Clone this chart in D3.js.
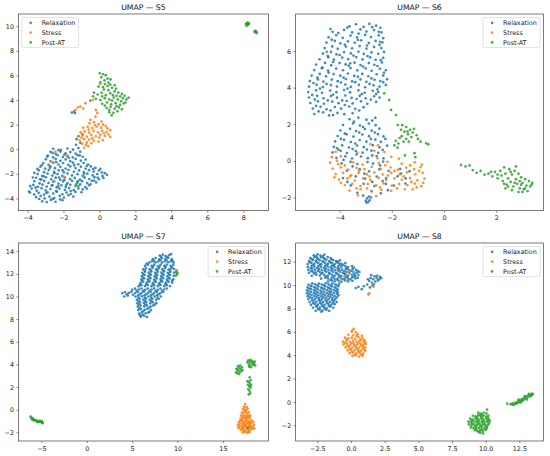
<!DOCTYPE html>
<html><head><meta charset="utf-8">
<script src="https://cdn.jsdelivr.net/npm/d3@7"></script>
<style>body{margin:0;background:#fff}svg{display:block}</style>
</head><body><svg id="c" width="550" height="456"></svg>
<script>
const seriesNames = ["Relaxation","Stress","Post-AT"];
const colors = ["#1f77b4","#ff7f0e","#2ca02c"];
const panelTitles = ["UMAP — S5","UMAP — S6","UMAP — S7","UMAP — S8"];

const s5XTicks = [-4,-2,0,2,4,6,8];
const s5YTicks = [-4,-2,0,2,4,6,8,10];
const s6XTicks = [-4,-2,0,2];
const s6YTicks = [-2,0,2,4,6];
const s7XTicks = [-5,0,5,10,15];
const s7YTicks = [-2,0,2,4,6,8,10,12,14];
const s8XTicks = [-2.5,0,2.5,5,7.5,10,12.5];
const s8YTicks = [-2,0,2,4,6,8,10,12];

const s5Relax = [
[-3.18,-4.24],[-2.93,-4.3],[-2.7,-4.12],[-2.44,-4.27],[-2.18,-4.08],
[-3.52,-3.9],[-3.27,-3.8],[-3.05,-4.0],[-2.78,-3.86],[-2.52,-3.98],[-2.21,-3.79],[-1.98,-3.93],[-1.72,-3.74],
[-3.86,-3.52],[-3.63,-3.68],[-3.38,-3.55],[-3.08,-3.7],[-2.88,-3.5],[-2.57,-3.6],[-2.37,-3.45],[-2.06,-3.66],[-1.83,-3.52],[-1.58,-3.64],[-1.33,-3.47],
[-3.77,-3.2],[-3.49,-3.37],[-3.22,-3.18],[-2.99,-3.34],[-2.72,-3.24],[-2.41,-3.4],[-2.23,-3.2],[-1.92,-3.31],[-1.68,-3.16],[-1.43,-3.33],[-1.17,-3.18],[-0.93,-3.27],
[-3.68,-2.9],[-3.42,-3.06],[-3.17,-2.88],[-2.93,-3.04],[-2.62,-2.92],[-2.38,-3.1],[-2.12,-2.93],[-1.87,-3.07],[-1.62,-2.89],[-1.33,-3.0],[-1.07,-2.86],[-0.79,-3.08],[-0.58,-2.93],
[-3.62,-2.6],[-3.33,-2.77],[-3.07,-2.58],[-2.83,-2.74],[-2.57,-2.64],[-2.28,-2.8],[-2.02,-2.61],[-1.78,-2.77],[-1.52,-2.58],[-1.23,-2.73],[-0.97,-2.6],[-0.68,-2.75],[-0.43,-2.57],[-0.18,-2.7],
[-3.52,-2.32],[-3.23,-2.47],[-2.97,-2.28],[-2.68,-2.44],[-2.43,-2.31],[-2.18,-2.48],[-1.92,-2.3],[-1.63,-2.43],[-1.37,-2.33],[-1.08,-2.47],[-0.83,-2.29],[-0.57,-2.42],[-0.28,-2.27],[-0.03,-2.44],[0.22,-2.33],
[-3.43,-2.02],[-3.18,-2.17],[-2.88,-1.99],[-2.62,-2.14],[-2.33,-2.02],[-2.07,-2.17],[-1.78,-1.98],[-1.52,-2.13],[-1.22,-2.03],[-0.93,-2.16],[-0.67,-1.99],[-0.38,-2.13],[-0.12,-2.02],[0.17,-2.17],[0.42,-2.08],
[-3.37,-1.72],[-3.08,-1.87],[-2.82,-1.69],[-2.53,-1.84],[-2.27,-1.72],[-1.98,-1.87],[-1.72,-1.69],[-1.42,-1.83],[-1.13,-1.72],[-0.87,-1.86],[-0.58,-1.7],[-0.32,-1.82],[-0.03,-1.73],[0.13,-1.88],
[-3.28,-1.42],[-3.02,-1.57],[-2.73,-1.39],[-2.47,-1.54],[-2.17,-1.43],[-1.88,-1.57],[-1.62,-1.4],[-1.33,-1.53],[-1.03,-1.42],[-0.77,-1.57],[-0.48,-1.4],[-0.22,-1.52],
[-3.12,-1.12],[-2.83,-1.27],[-2.57,-1.09],[-2.28,-1.24],[-2.02,-1.12],[-1.73,-1.27],[-1.47,-1.09],[-1.18,-1.23],[-0.88,-1.13],[-0.62,-1.24],
[-2.98,-0.82],[-2.72,-0.97],[-2.43,-0.79],[-2.17,-0.94],[-1.88,-0.83],[-1.62,-0.97],[-1.32,-0.79],[-1.03,-0.93],[-0.77,-0.84],
[-2.87,-0.52],[-2.58,-0.67],[-2.32,-0.49],[-2.03,-0.64],[-1.77,-0.53],[-1.48,-0.67],[-1.22,-0.49],[-0.93,-0.61],
[-2.72,-0.22],[-2.43,-0.37],[-2.17,-0.19],[-1.88,-0.34],[-1.62,-0.23],[-1.32,-0.36],[-1.07,-0.2],
[-2.57,0.04],[-2.28,-0.07],[-1.78,0.06],[-1.47,-0.03],[-1.17,0.09],
[-1.3,0.36],[-1.06,0.52],[-1.27,0.82],[-1.16,1.06],[-0.96,1.22],[-1.53,2.98],[-1.41,3.07],[-1.36,2.94],[-3.91,-3.44],[-3.62,-1.93],
[-3.55,-3.12],[-3.3,-2.45],[-2.95,-3.55],[-2.6,-4.05],[-2.3,-3.02],[-1.95,-2.5],[-1.6,-3.4],[-1.2,-2.6],[-0.85,-2.0],[-0.5,-2.85],
[-0.1,-2.3],[0.3,-1.95],[-2.75,-1.5],[-2.4,-1.05],[-2.05,-1.7],[-1.7,-0.7],[-1.4,-1.3],[-1.1,-0.5],[-0.7,-1.35],[-0.35,-1.6],
[-3.2,-1.3],[-2.9,-0.6],[-2.6,-0.3],[-2.15,-0.05],[-1.95,-0.45],[-3.45,-1.6],[-3.7,-2.3],[-3.85,-3.0],[-3.35,-4.05],[-2.05,-4.15],
[-1.45,-3.85],[-1.0,-3.5],[-0.7,-3.2],[-0.3,-2.55],[0.05,-1.6],[-2.5,-1.95],[-2.25,-2.3],[-1.85,-2.9],[-2.65,-2.95],[-3.1,-2.2]
];
const s5Stress = [
[-0.85,0.12],[-0.62,0.25],[-0.95,0.45],[-0.7,0.55],[-0.45,0.48],[-1.1,0.72],[-0.85,0.82],[-0.58,0.78],[-0.32,0.7],[-0.05,0.62],[0.18,0.75],
[-1.18,1.05],[-0.93,1.12],[-0.7,1.02],[-0.45,1.15],[-0.2,1.05],[0.05,1.18],[0.3,1.08],[0.5,1.2],
[-1.05,1.38],[-0.82,1.45],[-0.57,1.35],[-0.33,1.48],[-0.08,1.38],[0.15,1.5],[0.4,1.4],[0.6,1.55],
[-0.9,1.75],[-0.65,1.82],[-0.4,1.72],[-0.15,1.85],[0.1,1.75],[0.35,1.88],
[-0.55,2.1],[-0.3,2.2],[-0.05,2.05],[0.12,2.25],
[-0.22,2.65],[-0.12,2.95],[-0.2,3.2],[-0.35,4.02],[0.05,5.3],[-1.06,3.47],[-0.78,3.75],[-1.33,3.2],[-0.9,3.3],[-1.2,3.4],
[-2.44,-0.2],[-2.72,-1.0],[-1.8,-0.6],[-1.98,-2.23],[-2.5,-2.6],
[-0.75,0.35],[-0.4,0.9],[0.0,0.95],[-0.95,1.25],[0.25,1.3],[-0.6,1.6],[0.45,1.7],[-0.25,1.95],[-1.0,0.95],[0.6,1.0],[-0.5,2.4],[0.2,2.0]
];
const s5Post = [
[0.02,6.18],[0.2,6.1],[0.35,6.02],[0.1,5.85],[0.45,5.75],[0.62,5.68],[0.28,5.6],[0.05,5.45],[0.5,5.42],
[-0.05,5.1],[0.2,5.05],[0.45,5.15],[0.7,5.0],[0.92,4.92],
[-0.35,4.3],[-0.1,4.45],[0.12,4.6],[0.35,4.4],[0.6,4.55],[0.85,4.7],[1.05,4.6],[1.25,4.5],
[-0.5,3.95],[-0.2,4.1],[0.05,4.0],[0.3,4.15],[0.55,4.05],[0.8,4.2],[1.02,4.05],[1.3,4.15],[1.5,4.05],[1.62,4.2],
[0.15,3.7],[0.42,3.8],[0.65,3.65],[0.9,3.75],[1.15,3.6],[1.35,3.72],
[0.4,3.35],[0.62,3.45],[0.85,3.3],[1.08,3.4],[1.25,3.25],
[0.55,3.0],[0.78,2.95],[1.0,3.08],[0.68,2.75],
[0.75,4.4],[0.95,4.35],[0.25,4.85],[-1.17,-3.0],[-1.3,-2.85],
[0.3,5.3],[0.6,5.25],[0.15,4.3],[0.5,4.8],[1.15,4.3],[1.4,4.35],[0.7,3.95],[0.95,3.5],[1.2,3.9],[0.3,3.55],[0.55,3.2],[-0.3,4.6],[0.85,5.2],[1.45,3.8],
[8.15,10.18],[8.2,10.25],[8.28,10.15],[8.22,10.1],[8.32,10.22],[8.25,10.3],[8.18,10.05],
[8.62,9.55],[8.7,9.5],[8.75,9.45],[8.66,9.62],[8.72,9.58]
];

const s6Relax = [
[-3.62,7.35],[-3.37,7.46],[-3.08,7.32],[-2.86,7.48],[-2.6,7.38],[-2.44,7.27],
[-4.27,7.05],[-3.83,7.15],[-3.52,7.02],[-3.2,7.18],[-2.97,7.06],[-2.68,7.14],[-2.4,7.02],
[-4.42,6.75],[-4.13,6.86],[-3.88,6.72],[-3.58,6.84],[-3.33,6.74],[-3.02,6.88],[-2.8,6.76],[-2.5,6.85],[-2.33,6.7],
[-4.5,6.46],[-4.18,6.55],[-3.97,6.42],[-3.68,6.53],[-3.42,6.45],[-3.17,6.58],[-2.88,6.44],[-2.62,6.55],[-2.36,6.47],
[-4.57,6.16],[-4.28,6.25],[-4.07,6.12],[-3.76,6.24],[-3.52,6.15],[-3.23,6.27],[-2.97,6.13],[-2.68,6.22],[-2.4,6.16],
[-4.64,5.86],[-4.33,5.95],[-4.12,5.82],[-3.83,5.94],[-3.57,5.87],[-3.28,5.96],[-3.07,5.84],[-2.78,5.93],[-2.52,5.85],[-2.3,5.95],
[-4.77,5.55],[-4.43,5.66],[-4.22,5.53],[-3.9,5.64],[-3.67,5.56],[-3.36,5.67],[-3.12,5.54],[-2.83,5.65],[-2.62,5.52],[-2.33,5.63],
[-4.9,5.26],[-4.56,5.35],[-4.32,5.22],[-4.0,5.34],[-3.77,5.27],[-3.43,5.36],[-3.2,5.23],[-2.88,5.34],[-2.67,5.25],[-2.38,5.37],
[-4.97,4.96],[-4.68,5.06],[-4.44,4.93],[-4.13,5.04],[-3.87,4.95],[-3.58,5.07],[-3.32,4.94],[-3.0,5.05],[-2.77,4.92],[-2.46,5.03],[-2.23,4.95],
[-5.07,4.66],[-4.76,4.75],[-4.52,4.62],[-4.23,4.74],[-3.97,4.65],[-3.68,4.77],[-3.44,4.64],[-3.13,4.75],[-2.9,4.62],[-2.58,4.73],[-2.33,4.66],
[-5.14,4.36],[-4.83,4.45],[-4.62,4.33],[-4.3,4.44],[-4.07,4.35],[-3.76,4.47],[-3.52,4.34],[-3.2,4.45],[-2.97,4.32],[-2.66,4.43],[-2.44,4.36],[-2.18,4.46],
[-5.17,4.05],[-4.88,4.16],[-4.64,4.03],[-4.33,4.14],[-4.1,4.06],[-3.78,4.17],[-3.57,4.04],[-3.26,4.15],[-3.02,4.02],[-2.7,4.13],[-2.47,4.06],[-2.23,4.15],
[-5.2,3.76],[-4.9,3.85],[-4.67,3.72],[-4.36,3.84],[-4.12,3.75],[-3.83,3.87],[-3.6,3.74],[-3.28,3.85],[-3.04,3.72],[-2.73,3.83],[-2.52,3.76],
[-5.17,3.46],[-4.86,3.55],[-4.62,3.42],[-4.33,3.54],[-4.1,3.45],[-3.78,3.57],[-3.54,3.44],[-3.23,3.55],[-3.0,3.42],[-2.68,3.53],[-2.47,3.46],
[-5.12,3.16],[-4.83,3.25],[-4.6,3.12],[-4.28,3.24],[-4.04,3.15],[-3.73,3.27],[-3.5,3.14],[-3.18,3.25],[-2.94,3.12],[-2.6,3.22],
[-5.02,2.86],[-4.73,2.95],[-4.5,2.82],[-4.18,2.94],[-3.94,2.85],[-3.63,2.97],[-3.4,2.84],[-3.08,2.93],
[-4.97,2.56],[-4.63,2.65],[-4.4,2.48],[-4.08,2.62],[-3.82,2.55],
[-3.62,2.28],[-3.28,2.36],[-2.97,2.25],[-2.63,2.35],
[-3.87,1.96],[-3.48,2.05],[-3.22,1.93],[-2.88,2.04],[-2.62,1.95],
[-3.97,1.66],[-3.6,1.75],[-3.37,1.63],[-3.03,1.74],[-2.77,1.65],[-2.48,1.76],
[-4.07,1.36],[-3.73,1.45],[-3.47,1.33],[-3.13,1.44],[-2.87,1.35],[-2.53,1.46],[-2.32,1.34],
[-4.17,1.06],[-3.83,1.15],[-3.57,1.03],[-3.23,1.14],[-2.97,1.05],[-2.63,1.16],[-2.42,1.04],
[-4.22,0.76],[-3.9,0.85],[-3.64,0.73],[-3.33,0.84],[-3.07,0.75],[-2.73,0.86],[-2.47,0.74],[-2.18,0.83],
[-4.27,0.46],[-3.96,0.55],[-3.72,0.43],[-3.38,0.54],[-3.12,0.45],[-2.78,0.56],[-2.52,0.44],
[-4.12,0.16],[-3.78,0.25],[-3.52,0.13],[-3.18,0.24],[-2.92,0.15],[-2.58,0.26],[-2.32,0.14],
[-3.92,-0.14],[-3.58,-0.05],[-3.32,-0.17],[-2.93,-0.06],[-2.72,-0.15],[-2.33,-0.04],
[-3.72,-0.54],[-3.23,-0.45],[-2.87,-0.57],[-2.48,-0.46],[-2.12,-0.55],[-1.68,-0.44],[-1.32,-0.56],
[-3.87,-0.94],[-3.38,-0.85],[-3.02,-0.97],[-2.58,-0.86],[-2.22,-0.95],[-1.78,-0.84],[-1.47,-0.96],
[-3.57,-1.34],[-3.08,-1.25],[-2.67,-1.37],[-2.23,-1.26],[-1.92,-1.35],[-1.48,-1.24],
[-3.32,-1.74],[-2.78,-1.65],[-2.42,-1.77],
[-2.95,-2.05],[-2.85,-2.15],[-2.9,-2.25],[-2.8,-2.0],[-3.0,-2.18],[-2.88,-1.95],
[-4.35,7.2],[-4.05,6.98],[-3.7,7.28],[-3.27,6.95],[-2.75,7.3],[-2.5,7.05],[-4.3,6.62],[-3.8,6.35],[-3.3,6.6],[-2.95,6.3],
[-2.47,6.33],[-4.45,5.72],[-4.0,5.78],[-3.47,5.75],[-2.93,5.72],[-2.42,5.5],[-4.65,5.1],[-4.25,5.4],[-3.65,5.2],[-3.1,5.15],
[-2.55,5.18],[-4.85,4.55],[-4.42,4.82],[-3.85,4.55],[-3.3,4.6],[-2.78,4.5],[-2.3,4.8],[-5.0,4.25],[-4.5,4.2],[-3.95,4.28],
[-3.4,4.3],[-2.85,4.2],[-2.33,4.3],[-5.05,3.6],[-4.75,3.95],[-4.25,3.62],[-3.7,3.95],[-3.15,3.65],[-2.6,3.65],[-4.95,3.35],
[-4.45,3.3],[-3.9,3.3],[-3.35,3.38],[-2.8,3.35],[-4.9,3.0],[-4.35,2.75],[-3.8,3.05],[-3.25,2.75],[-4.8,2.7],[-4.25,2.5],
[-3.5,2.6],[-3.45,2.15],[-3.1,1.85],[-2.75,2.2],[-3.8,1.5],[-3.25,1.55],[-2.65,1.55],[-3.95,1.2],[-3.4,0.95],[-2.8,1.2],
[-2.25,1.2],[-4.05,0.62],[-3.5,0.65],[-2.95,0.62],[-2.35,0.6],[-3.85,0.05],[-3.35,0.35],[-2.75,0.3],[-2.45,-0.25],[-3.5,-0.3],
[-3.05,-0.7],[-2.35,-1.1],[-1.65,-0.7],[-2.75,-1.15],[-3.7,-1.15],[-2.15,-1.6],[-3.1,-1.9],[-2.97,-2.28]
];
const s6Stress = [
[-2.82,0.92],[-2.53,0.85],
[-4.15,0.5],[-3.32,0.45],[-2.67,0.55],[-2.28,0.48],
[-4.3,0.2],[-3.95,0.25],[-2.55,0.15],[-2.02,0.22],[-1.73,0.12],
[-4.36,-0.1],[-4.05,-0.18],[-3.48,-0.08],[-3.12,-0.2],[-2.5,-0.12],[-2.17,-0.05],[-1.62,-0.15],[-1.12,-0.08],[-0.85,-0.2],
[-4.27,-0.42],[-3.95,-0.35],[-3.67,-0.47],[-3.35,-0.38],[-3.05,-0.45],[-2.77,-0.33],[-2.42,-0.44],[-2.05,-0.36],[-1.77,-0.48],[-1.45,-0.37],[-1.15,-0.45],[-0.9,-0.34],
[-4.15,-0.72],[-3.87,-0.65],[-3.55,-0.77],[-3.27,-0.66],[-2.95,-0.74],[-2.67,-0.63],[-2.35,-0.75],[-2.02,-0.66],[-1.7,-0.74],[-1.42,-0.62],[-1.1,-0.73],[-0.82,-0.66],
[-4.02,-1.02],[-3.7,-0.95],[-3.42,-1.07],[-3.1,-0.96],[-2.82,-1.04],[-2.5,-0.93],[-2.22,-1.05],[-1.9,-0.96],[-1.62,-1.03],[-1.3,-0.94],[-1.02,-1.06],[-0.75,-0.97],
[-3.8,-1.32],[-3.52,-1.25],[-3.2,-1.37],[-2.92,-1.26],[-2.6,-1.34],[-2.32,-1.23],[-2.0,-1.35],[-1.72,-1.26],[-1.4,-1.33],[-1.12,-1.24],[-0.87,-1.38],
[-3.62,-1.62],[-3.2,-1.55],[-2.77,-1.67],[-2.4,-1.58],[-2.02,-1.64],[-1.5,-1.55],[-1.05,-1.45],
[-3.3,-1.88],[-2.6,-1.92],
[-3.8,-0.25],[-3.25,-0.55],[-2.85,-0.85],[-2.25,-0.25],[-1.9,-0.55],[-1.55,-0.85],[-1.25,-1.15],[-0.95,-0.55],[-0.8,-1.2],[-3.95,-1.2],
[-3.35,-1.5],[-2.45,-1.45],[-1.8,-1.5],[-1.2,-1.55],[-4.2,-0.9],[-3.6,-0.85],[-2.15,-0.8],[-1.3,-0.25],[-4.1,0.0],[-2.95,-1.5]
];
const s6Post = [
[-2.29,3.69],[-2.1,3.33],[-2.03,2.78],[-1.84,2.5],[-1.77,1.96],[-1.6,1.95],[-1.45,1.85],[-1.3,1.7],[-1.52,1.6],[-1.2,1.55],
[-1.38,1.45],[-1.05,1.4],[-1.62,1.35],[-1.25,1.3],[-1.0,1.2],[-1.45,1.2],[-1.85,1.1],[-1.75,0.95],[-1.9,0.85],[-1.78,0.72],
[-1.55,1.05],[-0.9,1.05],[-0.68,0.96],[-0.6,0.9],[-1.13,0.42],[-1.1,0.2],[-1.5,0.3],[-4.1,0.7],[-3.59,5.33],[-4.49,5.96],[-2.45,6.5],[-2.55,3.9],
[-1.4,1.6],[-1.15,1.75],[-1.65,1.7],[-1.35,1.05],[-1.7,1.25],
[0.65,-0.22],[0.82,-0.3],[0.98,-0.25],[1.1,-0.5],[1.25,-0.65],[1.4,-0.55],[1.55,-0.75],[1.7,-0.7],[1.85,-0.85],[1.95,-0.6],
[2.05,-0.95],[2.15,-0.55],[2.2,-0.8],[2.25,-1.1],[2.35,-0.7],[2.4,-1.3],[2.45,-0.95],[2.5,-0.45],[2.55,-1.15],[2.6,-0.75],
[2.65,-1.4],[2.7,-0.55],[2.75,-1.0],[2.8,-1.25],[2.85,-0.7],[2.9,-1.5],[2.95,-0.9],[3.0,-1.2],[3.05,-1.55],[3.1,-1.0],
[3.15,-1.35],[3.2,-1.65],[3.25,-1.1],[3.3,-1.4],[3.38,-1.2],[2.35,-1.5],[2.6,-1.6],[2.85,-1.7],[3.0,-1.7],[2.3,-0.35],[2.75,-0.3],
[2.05,-0.75],[2.3,-1.25],[2.55,-0.6],[2.7,-1.2],[2.95,-1.3],[3.1,-1.5],[2.45,-1.4],[2.9,-1.1],[1.8,-0.6],[3.35,-1.3]
];

const s7Relax = [
[8.04,13.62],[8.38,13.7],[8.68,13.58],[9.08,13.66],[9.28,13.74],
[7.28,13.3],[7.58,13.4],[7.98,13.28],[8.27,13.38],[8.68,13.32],[8.98,13.42],[9.37,13.3],
[6.88,13.0],[7.17,13.1],[7.58,13.02],[7.87,13.09],[8.28,12.99],[8.57,13.1],[8.98,13.03],[9.27,13.12],[9.57,13.0],
[6.42,12.7],[6.73,12.8],[7.13,12.72],[7.42,12.81],[7.83,12.69],[8.12,12.8],[8.53,12.72],[8.82,12.83],[9.23,12.7],[9.53,12.8],
[6.22,12.4],[6.52,12.5],[6.93,12.41],[7.22,12.52],[7.63,12.4],[7.92,12.5],[8.33,12.42],[8.62,12.53],[9.03,12.4],[9.32,12.5],[9.63,12.43],
[6.12,12.1],[6.42,12.2],[6.83,12.12],[7.12,12.21],[7.53,12.1],[7.82,12.2],[8.23,12.11],[8.52,12.22],[8.93,12.1],[9.22,12.2],[9.62,12.12],
[6.07,11.8],[6.37,11.9],[6.78,11.82],[7.07,11.91],[7.48,11.8],[7.77,11.9],[8.18,11.81],[8.47,11.92],[8.88,11.8],[9.17,11.9],[9.58,11.83],
[6.02,11.5],[6.32,11.6],[6.73,11.52],[7.02,11.61],[7.43,11.5],[7.72,11.6],[8.13,11.51],[8.42,11.62],[8.83,11.5],[9.12,11.6],[9.53,11.52],
[5.92,11.2],[6.22,11.3],[6.63,11.22],[6.92,11.31],[7.33,11.2],[7.62,11.3],[8.03,11.21],[8.32,11.32],[8.73,11.2],[9.02,11.3],[9.42,11.22],
[5.72,10.9],[6.02,11.0],[6.43,10.92],[6.72,11.01],[7.13,10.9],[7.42,11.0],[7.83,10.91],[8.12,11.02],[8.53,10.9],[8.82,11.0],[9.17,10.92],
[5.02,10.6],[5.32,10.7],[5.73,10.62],[6.02,10.71],[6.43,10.6],[6.72,10.7],[7.13,10.61],[7.42,10.72],[7.83,10.6],[8.12,10.7],[8.53,10.62],[8.82,10.71],
[3.92,10.3],[4.22,10.4],[4.63,10.32],[4.92,10.41],[5.33,10.3],[5.62,10.4],[6.03,10.31],[6.32,10.42],[6.73,10.3],[7.02,10.4],[7.43,10.32],[7.72,10.41],[8.13,10.3],[8.42,10.4],
[4.12,10.0],[4.52,10.08],[5.37,10.0],[5.67,10.1],[6.08,10.02],[6.37,10.11],[6.78,10.0],[7.07,10.1],[7.48,10.01],[7.77,10.12],[8.17,10.0],
[5.52,9.7],[5.82,9.8],[6.23,9.72],[6.52,9.81],[6.93,9.7],[7.22,9.8],[7.63,9.71],[7.92,9.8],
[5.57,9.4],[5.87,9.5],[6.28,9.42],[6.57,9.51],[6.98,9.4],[7.27,9.5],[7.67,9.42],
[5.62,9.1],[5.92,9.2],[6.33,9.12],[6.62,9.21],[7.03,9.1],[7.32,9.2],
[5.67,8.8],[5.97,8.9],[6.38,8.82],[6.67,8.91],[7.07,8.8],
[5.77,8.5],[6.07,8.6],[6.48,8.52],[6.78,8.58],
[5.97,8.22],[6.32,8.3],[6.62,8.2],
[8.2,13.5],[8.85,13.5],[7.4,13.15],[8.1,13.2],[8.8,13.2],[9.45,13.15],[6.6,12.9],[7.3,12.65],[8.0,12.6],[8.7,12.65],
[9.4,12.6],[6.4,12.3],[7.05,12.3],[7.75,12.35],[8.45,12.3],[9.15,12.32],[6.25,11.95],[6.95,12.0],[7.65,12.0],[8.35,11.98],
[9.05,12.0],[6.2,11.65],[6.9,11.7],[7.6,11.72],[8.3,11.7],[9.0,11.7],[9.4,11.4],[6.1,11.4],[6.8,11.4],[7.5,11.4],
[8.2,11.4],[8.9,11.4],[5.85,11.05],[6.55,11.1],[7.25,11.1],[7.95,11.1],[8.65,11.1],[5.5,10.5],[6.2,10.5],[6.9,10.5],
[7.6,10.5],[8.3,10.5],[4.4,10.2],[5.1,10.15],[5.85,10.2],[6.55,10.2],[7.25,10.2],[7.95,10.22],[5.7,9.9],[6.4,9.9],
[7.1,9.9],[7.8,9.9],[5.7,9.6],[6.4,9.6],[7.1,9.6],[7.5,9.3],[5.75,9.3],[6.45,9.3],[6.85,9.0],[5.8,8.95],
[6.2,8.7],[6.9,8.65],[6.15,8.4],[5.85,8.35]
];
const s7Stress = [
[17.45,0.5],[17.35,0.27],[17.62,0.22],[17.2,0.02],[17.47,-0.04],[17.72,0.05],
[17.1,-0.27],[17.37,-0.22],[17.62,-0.3],[17.86,-0.23],
[17.0,-0.52],[17.26,-0.47],[17.52,-0.55],[17.77,-0.48],[18.02,-0.53],
[16.95,-0.78],[17.2,-0.72],[17.47,-0.8],[17.72,-0.73],[17.97,-0.77],
[16.9,-1.02],[17.16,-0.97],[17.42,-1.05],[17.67,-0.98],[17.92,-1.03],[18.17,-0.96],
[16.85,-1.27],[17.11,-1.22],[17.37,-1.3],[17.62,-1.23],[17.87,-1.28],[18.12,-1.21],
[16.8,-1.52],[17.06,-1.47],[17.32,-1.55],[17.57,-1.48],[17.82,-1.53],[18.07,-1.46],[18.3,-1.55],
[16.97,-1.77],[17.22,-1.72],[17.47,-1.8],[17.72,-1.73],[17.97,-1.78],[18.22,-1.71],
[17.17,-2.02],[17.42,-1.97],[17.67,-2.05],[17.92,-1.99],
[16.65,-1.35],[16.7,-1.6],[18.42,-1.35],[18.45,-1.65],[16.75,-1.1],[18.35,-1.1],
[17.3,0.1],[17.55,-0.1],[17.25,-0.62],[17.6,-0.65],[17.85,-0.62],[17.05,-0.9],[17.55,-0.88],[17.3,-1.15],[17.75,-1.15],[18.0,-1.15],
[17.2,-1.4],[17.5,-1.38],[17.95,-1.4],[17.1,-1.65],[17.6,-1.62],[18.1,-1.62],[17.3,-1.9],[17.8,-1.9]
];
const s7Post = [
[9.85,12.15],[9.95,11.95],[9.8,11.85],[10.0,12.1],[9.9,12.3],
[-6.2,-0.62],[-6.08,-0.71],[-5.99,-0.77],[-5.87,-0.84],[-5.79,-0.9],[-5.68,-0.92],[-5.58,-0.99],[-5.48,-1.0],[-5.41,-1.04],[-5.28,-1.05],
[-5.19,-1.06],[-5.1,-1.09],[-4.99,-1.1],[-4.9,-1.13],[-4.85,-1.2],[-4.95,-1.01],[-5.15,-0.98],[-5.45,-1.1],[-5.85,-0.95],[-6.05,-0.85],
[16.45,3.3],[16.55,3.55],[16.6,3.2],[16.7,3.45],[16.75,3.7],[16.85,3.35],[16.9,3.9],[16.95,3.6],[17.05,3.4],[17.1,3.75],[16.65,3.85],[16.8,3.15],[17.15,3.5],[16.5,3.6],
[17.7,4.2],[17.8,4.35],[17.85,4.0],[17.95,4.25],[18.0,3.9],[18.05,4.4],[18.15,4.1],[18.2,4.3],[18.3,3.95],[18.35,4.2],[18.45,4.05],[18.5,4.25],[17.9,3.8],[18.1,3.75],[18.55,3.9],
[17.95,2.85],[18.05,2.6],[17.85,2.45],[18.0,2.3],[17.75,2.2],[17.9,2.05],[18.05,1.95],[17.8,1.8],[17.95,1.65],[18.0,1.45],[17.85,1.35],[18.1,2.15],[17.7,2.5],[17.78,-1.6]
];

const s8Relax = [
[-2.77,12.55],[-2.48,12.63],[-2.27,12.52],[-1.98,12.6],
[-3.02,12.3],[-2.73,12.4],[-2.52,12.32],[-2.23,12.38],[-2.02,12.29],[-1.73,12.4],[-1.52,12.31],
[-3.12,12.05],[-2.83,12.15],[-2.62,12.07],[-2.33,12.13],[-2.12,12.04],[-1.83,12.15],[-1.62,12.06],[-1.33,12.14],[-1.12,12.05],[-0.83,12.12],
[-3.22,11.8],[-2.93,11.9],[-2.72,11.82],[-2.43,11.88],[-2.22,11.79],[-1.93,11.9],[-1.72,11.81],[-1.43,11.89],[-1.22,11.8],[-0.93,11.9],[-0.72,11.82],[-0.43,11.87],
[-3.22,11.55],[-2.93,11.65],[-2.72,11.57],[-2.43,11.63],[-2.22,11.54],[-1.93,11.65],[-1.72,11.56],[-1.43,11.64],[-1.22,11.55],[-0.93,11.65],[-0.72,11.57],[-0.43,11.62],[-0.22,11.54],[0.07,11.63],
[-3.17,11.3],[-2.88,11.4],[-2.67,11.32],[-2.38,11.38],[-2.17,11.29],[-1.88,11.4],[-1.67,11.31],[-1.38,11.39],[-1.17,11.3],[-0.88,11.4],[-0.67,11.32],[-0.38,11.37],[-0.17,11.29],[0.12,11.38],[0.37,11.3],
[-3.12,11.05],[-2.83,11.15],[-2.62,11.07],[-2.33,11.13],[-2.12,11.04],[-1.83,11.15],[-1.62,11.06],[-1.33,11.14],[-1.12,11.05],[-0.83,11.15],[-0.62,11.07],[-0.33,11.12],[-0.12,11.04],[0.17,11.13],[0.42,11.05],[0.62,11.12],
[-2.92,10.8],[-2.58,10.9],[-2.32,10.82],[-1.98,10.88],[-1.72,10.79],[-1.43,10.9],[-1.22,10.81],[-0.93,10.89],[-0.72,10.8],[-0.43,10.9],[-0.22,10.82],[0.07,10.87],[0.32,10.79],[0.55,10.86],
[-2.22,10.55],[-1.93,10.65],[-1.72,10.57],[-1.43,10.63],[-1.22,10.54],[-0.93,10.65],[-0.72,10.56],[-0.43,10.64],[-0.22,10.55],[0.07,10.65],[0.32,10.57],[0.5,10.62],
[-1.72,10.3],[-1.43,10.4],[-1.22,10.32],[-0.93,10.38],[-0.72,10.29],[-0.43,10.4],[-0.22,10.31],[0.1,10.36],
[-3.17,10.05],[-2.88,10.15],[-2.67,10.07],[-2.38,10.13],[-2.17,10.04],[-1.88,10.15],[-1.67,10.06],[-1.38,10.14],[-1.17,10.05],[-0.88,10.12],
[-3.22,9.8],[-2.93,9.9],[-2.72,9.82],[-2.43,9.88],[-2.22,9.79],[-1.93,9.9],[-1.72,9.81],[-1.43,9.89],[-1.22,9.8],[-0.93,9.9],
[-3.27,9.55],[-2.98,9.65],[-2.77,9.57],[-2.48,9.63],[-2.27,9.54],[-1.98,9.65],[-1.77,9.56],[-1.48,9.64],[-1.27,9.55],[-0.98,9.62],
[-3.27,9.3],[-2.98,9.4],[-2.77,9.32],[-2.48,9.38],[-2.27,9.29],[-1.98,9.4],[-1.77,9.31],[-1.48,9.39],[-1.27,9.3],[-0.98,9.37],
[-3.22,9.05],[-2.93,9.15],[-2.72,9.07],[-2.43,9.13],[-2.22,9.04],[-1.93,9.15],[-1.72,9.06],[-1.43,9.14],[-1.22,9.05],[-0.93,9.12],
[-3.17,8.8],[-2.88,8.9],[-2.67,8.82],[-2.38,8.88],[-2.17,8.79],[-1.88,8.9],[-1.67,8.81],[-1.38,8.89],[-1.17,8.8],
[-3.07,8.55],[-2.78,8.65],[-2.57,8.57],[-2.28,8.63],[-2.07,8.54],[-1.78,8.65],[-1.57,8.56],[-1.28,8.64],[-1.07,8.55],
[-2.97,8.3],[-2.68,8.4],[-2.47,8.32],[-2.18,8.38],[-1.97,8.29],[-1.68,8.4],[-1.47,8.31],[-1.22,8.37],
[-2.82,8.05],[-2.53,8.15],[-2.32,8.07],[-2.03,8.13],[-1.82,8.04],[-1.53,8.15],[-1.32,8.06],
[-2.62,7.8],[-2.33,7.9],[-2.12,7.82],[-1.83,7.88],[-1.62,7.8],
[0.35,9.75],[0.55,9.85],[0.8,9.65],[0.95,9.9],[1.2,10.05],[1.35,10.35],[1.45,10.6],[1.55,10.2],[1.65,10.5],[1.75,10.75],[1.8,10.3],
[1.9,10.6],[2.0,10.4],[1.95,10.8],[2.15,10.7],[2.25,10.6],[1.6,9.95],[1.4,9.8],[1.25,10.5],[1.5,10.85],[1.7,10.05],[2.1,10.5],
[-2.6,12.45],[-2.1,12.45],[-2.9,12.2],[-2.45,12.22],[-1.95,12.25],[-1.45,12.2],[-1.0,12.0],[-3.05,11.95],[-2.55,11.97],[-2.05,11.98],
[-1.55,11.95],[-1.05,11.95],[-0.6,11.72],[-2.8,11.7],[-2.3,11.72],[-1.8,11.72],[-1.3,11.7],[-0.8,11.75],[-0.3,11.45],[0.2,11.5],
[-3.0,11.45],[-2.5,11.47],[-2.0,11.47],[-1.5,11.5],[-1.0,11.48],[-0.5,11.2],[0.0,11.22],[0.5,11.2],[-2.95,11.2],[-2.45,11.22],
[-1.95,11.23],[-1.45,11.25],[-0.95,11.25],[-2.75,10.98],[-2.2,10.98],[-1.6,10.98],[-1.05,10.98],[-0.5,10.98],[0.25,10.95],[-1.85,10.72],
[-1.3,10.72],[-0.8,10.75],[-0.3,10.72],[0.2,10.72],[-1.55,10.45],[-1.05,10.48],[-0.55,10.5],[-0.05,10.48],[-3.0,9.95],[-2.5,9.97],
[-2.0,9.98],[-1.5,9.97],[-1.05,9.98],[-3.1,9.7],[-2.6,9.72],[-2.1,9.72],[-1.6,9.72],[-1.1,9.72],[-3.15,9.45],[-2.65,9.47],
[-2.15,9.45],[-1.6,9.45],[-1.1,9.48],[-3.1,9.2],[-2.6,9.22],[-2.1,9.2],[-1.6,9.22],[-1.05,9.25],[-3.05,8.95],[-2.55,8.97],
[-2.05,8.95],[-1.55,8.97],[-1.05,8.95],[-2.9,8.7],[-2.4,8.72],[-1.9,8.7],[-1.4,8.72],[-2.8,8.45],[-2.3,8.47],[-1.8,8.45],
[-1.35,8.47],[-2.6,8.2],[-2.15,8.22],[-1.65,8.22],[-2.45,7.95],[-1.95,7.97],[-2.2,7.72]
];
const s8Stress = [
[0.2,6.25],[0.05,6.0],[0.35,5.95],[-0.2,5.75],[0.15,5.7],[0.5,5.8],[-0.45,5.5],[-0.2,5.45],[0.05,5.5],[0.3,5.4],[0.55,5.55],[0.85,5.45],[1.0,5.3],
[-0.6,5.17],[-0.35,5.24],[-0.1,5.15],[0.15,5.22],[0.4,5.16],[0.65,5.25],[0.9,5.18],
[-0.55,4.92],[-0.3,4.98],[-0.05,4.9],[0.2,4.97],[0.45,4.91],[0.7,5.0],[0.95,4.93],[1.1,4.98],
[-0.4,4.67],[-0.15,4.74],[0.1,4.66],[0.35,4.72],[0.6,4.65],[0.85,4.75],[1.05,4.68],
[-0.25,4.42],[0.0,4.49],[0.25,4.41],[0.5,4.47],[0.75,4.4],[1.0,4.48],
[-0.1,4.17],[0.15,4.24],[0.4,4.16],[0.65,4.22],[0.9,4.15],
[0.1,3.93],[0.35,3.98],[0.6,3.9],[0.85,3.96],
[0.1,6.1],[0.4,5.65],[-0.3,5.35],[0.7,5.35],[-0.45,5.05],[0.05,5.05],[0.55,5.08],[1.05,5.1],[-0.25,4.8],[0.25,4.82],
[0.75,4.85],[-0.1,4.55],[0.4,4.57],[0.9,4.58],[0.05,4.3],[0.55,4.32],[1.05,4.35],[0.25,4.05],[0.75,4.05],[0.8,5.65],
[1.66,9.86],[1.29,9.2],[1.35,9.3],[-0.2,11.15],[-0.5,10.72],[-1.8,9.0]
];
const s8Post = [
[10.1,-0.65],
[9.45,-0.92],[9.65,-1.0],[9.85,-0.9],[10.05,-0.98],
[9.05,-1.18],[9.25,-1.24],[9.45,-1.15],[9.65,-1.22],[9.85,-1.16],[10.05,-1.25],[10.2,-1.17],
[8.85,-1.42],[9.05,-1.5],[9.25,-1.41],[9.45,-1.48],[9.65,-1.4],[9.85,-1.5],[10.05,-1.42],[10.25,-1.48],
[8.72,-1.68],[8.92,-1.74],[9.12,-1.66],[9.32,-1.73],[9.52,-1.65],[9.72,-1.75],[9.92,-1.67],[10.12,-1.72],[10.3,-1.66],
[8.75,-1.92],[8.95,-2.0],[9.15,-1.91],[9.35,-1.98],[9.55,-1.9],[9.75,-2.0],[9.95,-1.92],[10.15,-1.98],
[8.9,-2.18],[9.1,-2.24],[9.3,-2.16],[9.5,-2.23],[9.7,-2.15],[9.9,-2.25],[10.1,-2.17],
[9.2,-2.42],[9.4,-2.5],[9.6,-2.41],[9.8,-2.48],[10.0,-2.4],
[9.6,-2.63],[9.8,-2.68],
[9.55,-1.08],[9.75,-1.1],[9.35,-1.32],[9.75,-1.32],[10.15,-1.33],[8.95,-1.58],[9.35,-1.6],[9.75,-1.6],[10.15,-1.58],[9.0,-1.85],
[9.45,-1.83],[9.85,-1.84],[10.25,-1.85],[9.2,-2.08],[9.6,-2.07],[10.0,-2.08],[9.3,-2.33],[9.7,-2.35],[10.05,-2.3],[9.5,-2.58],
[11.6,-0.15],[11.85,-0.2],[12.0,-0.12],[12.05,-0.25],[12.2,-0.05],[12.3,-0.15],[12.4,0.05],[12.5,-0.02],[12.55,0.15],[12.65,0.08],
[12.7,0.25],[12.8,0.18],[12.85,0.35],[12.95,0.28],[13.0,0.45],[13.1,0.38],[13.15,0.55],[13.25,0.48],[13.3,0.65],[13.4,0.58],
[13.45,0.72],[13.5,0.65],[12.45,0.2],[12.9,0.5],[13.2,0.7],[12.6,-0.05],[13.05,0.2],
[12.35,-0.08],[12.75,0.1],[13.35,0.5],[12.15,-0.2],[11.95,-0.18]
];

const FONT = "DejaVu Sans, sans-serif";
const panels = [
  {title:panelTitles[0], series:[s5Relax,s5Stress,s5Post], xd:[-4.5,9.39], yd:[-5.0,11.0], xt:s5XTicks, yt:s5YTicks, xf:"d", box:[18.5,268.3,14,210.7], legend:"left"},
  {title:panelTitles[1], series:[s6Relax,s6Stress,s6Post], xd:[-5.68,3.8], yd:[-2.72,8.02], xt:s6XTicks, yt:s6YTicks, xf:"d", box:[295.7,543.3,14,210.7], legend:"right"},
  {title:panelTitles[2], series:[s7Relax,s7Stress,s7Post], xd:[-7.52,20.0], yd:[-2.77,14.73], xt:s7XTicks, yt:s7YTicks, xf:"d", box:[18.5,268.3,243,441], legend:"right"},
  {title:panelTitles[3], series:[s8Relax,s8Stress,s8Post], xd:[-4.11,14.28], yd:[-3.34,13.6], xt:s8XTicks, yt:s8YTicks, xf:".1f", box:[295.7,543.3,243,441], legend:"right"}
];

const svg = d3.select("#c");
panels.forEach(p => {
  const [L,R,T,B] = p.box;
  const x = d3.scaleLinear().domain(p.xd).range([L,R]);
  const y = d3.scaleLinear().domain(p.yd).range([B,T]);
  const g = svg.append("g");

  p.series.forEach((arr,i) => {
    g.append("g").selectAll("circle").data(arr).join("circle")
      .attr("cx", d => x(d[0])).attr("cy", d => y(d[1])).attr("r", 1.35)
      .attr("fill", colors[i]).attr("fill-opacity", 0.85);
  });

  const ax = g.append("g").attr("transform", `translate(0,${B})`)
    .call(d3.axisBottom(x).tickValues(p.xt).tickFormat(d3.format(p.xf)).tickSize(2.2).tickSizeOuter(0).tickPadding(3));
  const ay = g.append("g").attr("transform", `translate(${L},0)`)
    .call(d3.axisLeft(y).tickValues(p.yt).tickFormat(d3.format("d")).tickSize(2.2).tickSizeOuter(0).tickPadding(2.3));
  [ax,ay].forEach(a => {
    a.attr("font-family", FONT).attr("font-size", 6.4);
    a.select(".domain").remove();
    a.selectAll(".tick line").attr("stroke", "#333").attr("stroke-width", 0.55);
    a.selectAll(".tick text").attr("fill", "#222");
  });

  g.append("rect").attr("x", L).attr("y", T).attr("width", R-L).attr("height", B-T)
    .attr("fill", "none").attr("stroke", "#222").attr("stroke-width", 0.6);

  g.append("text").attr("x", (L+R)/2).attr("y", T-4.5).attr("text-anchor", "middle")
    .attr("font-family", FONT).attr("font-size", 7.7).attr("fill", "#111").text(p.title);

  const lw = 57, lh = 30;
  const lx = p.legend === "left" ? L + 3.2 : R - 3.2 - lw;
  const ly = T + 3.6;
  const lg = g.append("g");
  lg.append("rect").attr("x", lx).attr("y", ly).attr("width", lw).attr("height", lh).attr("rx", 1.5)
    .attr("fill", "#fff").attr("fill-opacity", 0.8).attr("stroke", "#ccc").attr("stroke-width", 0.6);
  seriesNames.forEach((n,i) => {
    const cy = ly + 5.2 + i*9.8;
    lg.append("circle").attr("cx", lx+9).attr("cy", cy).attr("r", 1.35).attr("fill", colors[i]).attr("fill-opacity", 0.85);
    lg.append("text").attr("x", lx+20).attr("y", cy+2.3).attr("font-family", FONT).attr("font-size", 6.4)
      .attr("fill", "#222").text(n);
  });
});
</script></body></html>
